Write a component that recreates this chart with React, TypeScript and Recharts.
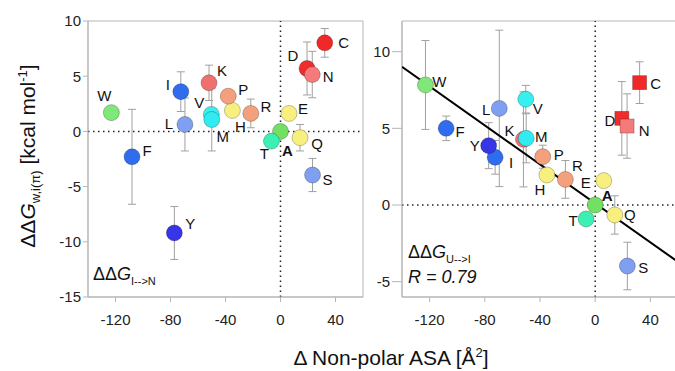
import React from 'react';
import {
  ScatterChart,
  Scatter,
  XAxis,
  YAxis,
  ErrorBar,
  ReferenceLine,
  ReferenceArea,
} from 'recharts';

// ---------------- data ----------------
const residues = ['W', 'F', 'I', 'Y', 'L', 'K', 'V', 'M', 'H', 'P', 'R', 'E', 'A', 'T', 'Q', 'S', 'D', 'N', 'C'];
const deltaNonPolarASA = [-123, -108, -72.5, -77.2, -69.5, -52, -50.3, -50, -35, -38, -21.6, 6.2, 0, -6.6, 14.2, 23.3, 19.3, 23.1, 32.2];
// ΔΔG I-->N (left panel)
const ddgIN = [1.7, -2.3, 3.6, -9.2, 0.63, 4.4, 1.54, 1.08, 1.9, 3.19, 1.63, 1.63, 0, -0.88, -0.57, -3.95, 5.7, 5.15, 8.02];
const errIN = [0, 4.3, 1.8, 2.4, 2.4, 1.6, 0.5, 2.85, 0.4, 0.5, 1.3, 0.3, 0, 0.3, 1.2, 1.5, 2.4, 2.1, 1.3];
// ΔΔG U-->I (right panel)
const ddgUI = [7.83, 5.0, 3.11, 3.87, 6.3, 4.28, 6.9, 4.35, 1.96, 3.15, 1.67, 1.59, 0, -0.91, -0.65, -3.98, 5.65, 5.15, 7.98];
const errUI = [2.9, 0.8, 1.1, 1.5, 5.1, 3.1, 0.9, 1.6, 0.4, 0.75, 1.23, 0.3, 0, 0.3, 1.25, 1.55, 2.4, 2.1, 1.36];
// regression line (right panel)
const fitX = [-140, 60];
const fitY = [9.01, -3.71];

const xTicks = [-120, -80, -40, 0, 40];
const yTicksLeft = [-15, -10, -5, 0, 5, 10];
const yTicksRight = [-5, 0, 5, 10];
const squareResidues = ['D', 'N', 'C'];

// ---------------- styles ----------------
const residueColors: Record<string, string> = {
  W: '#7fe879',
  F: '#2f6cf0',
  I: '#2f6cee',
  Y: '#3636e6',
  L: '#7f9ff0',
  K: '#f07070',
  V: '#36f0f0',
  M: '#30ecf0',
  H: '#f8f07e',
  P: '#f5a07c',
  R: '#f5a07c',
  E: '#f8f07e',
  A: '#72e062',
  T: '#3cf0b4',
  Q: '#f8f07e',
  S: '#7f9ff0',
  D: '#f02c2c',
  N: '#f57a7a',
  C: '#f02828',
};

const labelOffsetsLeft: Record<string, [number, number]> = {
  W: [-7, -17], F: [15, -6], I: [-13, -7], Y: [16, -9], L: [-16, -1], K: [13, -12],
  V: [-12, -12], M: [11, 17], H: [8, 16], P: [15, -7], R: [15, -7], E: [14, -5],
  A: [7, 19], T: [-7, 12], Q: [17, 6], S: [15, 4], D: [-14, -13], N: [16, 2], C: [19, 0],
};
const labelOffsetsRight: Record<string, [number, number]> = {
  W: [14, -3], F: [14, 3], I: [16, 5], Y: [-14, 0], L: [-13, 1], K: [-14, -9],
  V: [12, 9], M: [15, -2], H: [-7, 15], P: [16, -2], R: [12, -14], E: [-18, 2],
  A: [12, -10], T: [-13, 2], Q: [15, 0], S: [16, 1], D: [-12, 2], N: [17, 4], C: [16, 1],
};

const FONT = '"Liberation Sans", Arial, Helvetica, sans-serif';
const FRAME = '#b5b5b5';
const ERR = '#a0a0a0';

const leftData = residues.map((name, i) => ({ name, x: deltaNonPolarASA[i], y: ddgIN[i], err: errIN[i] }));
const rightData = residues.map((name, i) => ({ name, x: deltaNonPolarASA[i], y: ddgUI[i], err: errUI[i] }));
const fitData = fitX.map((x, i) => ({ x, y: fitY[i] }));

const makeMarker = (squares: string[]) => (props: any) => {
  const { cx, cy, payload } = props;
  if (cx == null || cy == null) return <g />;
  const c = residueColors[payload.name];
  if (squares.includes(payload.name)) {
    return <rect x={cx - 7} y={cy - 7} width={14} height={14} fill={c} stroke="rgba(0,0,0,0.3)" strokeWidth={0.8} />;
  }
  return <circle cx={cx} cy={cy} r={8} fill={c} stroke="rgba(0,0,0,0.3)" strokeWidth={0.8} />;
};

const makeLabel = (offsets: Record<string, [number, number]>) => (props: any) => {
  const { cx, cy, payload } = props;
  if (cx == null || cy == null) return <g />;
  const [dx, dy] = offsets[payload.name] || [12, 0];
  return (
    <text
      x={cx + dx}
      y={cy + dy}
      textAnchor="middle"
      dominantBaseline="central"
      fontSize={15}
      fontFamily={FONT}
      fontWeight={payload.name === 'A' ? 'bold' : 'normal'}
      fill="#111"
    >
      {payload.name}
    </text>
  );
};

const tickStyle = { fill: '#222', fontSize: 15, fontFamily: FONT };

const Panel = ({
  data,
  yDomain,
  yTicks,
  yAxisWidth,
  yTickSize,
  width,
  rightMargin,
  squares,
  offsets,
  fit,
}: any) => (
  <ScatterChart
    width={width}
    height={340}
    margin={{ top: 21, right: rightMargin, bottom: 13, left: 0 }}
  >
    <XAxis
      type="number"
      dataKey="x"
      domain={[-140, 60]}
      ticks={xTicks}
      allowDataOverflow
      tick={tickStyle}
      tickSize={5}
      tickMargin={12}
      stroke={FRAME}
      axisLine={{ stroke: FRAME }}
      tickLine={{ stroke: FRAME }}
      height={30}
    />
    <YAxis
      type="number"
      dataKey="y"
      domain={yDomain}
      ticks={yTicks}
      allowDataOverflow
      tick={tickStyle}
      tickSize={yTickSize}
      tickMargin={2}
      width={yAxisWidth}
      axisLine={{ stroke: FRAME }}
      tickLine={{ stroke: FRAME }}
    />
    <ReferenceArea
      x1={-140}
      x2={60}
      y1={yDomain[0]}
      y2={yDomain[1]}
      fill="none"
      fillOpacity={0}
      stroke={FRAME}
      strokeWidth={1}
      ifOverflow="extendDomain"
    />
    {fit && (
      <Scatter
        data={fit}
        line={{ stroke: '#000', strokeWidth: 2 }}
        shape={() => <g />}
        isAnimationActive={false}
      />
    )}
    <Scatter data={data} shape={makeMarker(squares)} isAnimationActive={false}>
      <ErrorBar dataKey="err" direction="y" width={4} stroke={ERR} strokeWidth={1} />
    </Scatter>
    <ReferenceLine x={0} stroke="#222" strokeWidth={1.5} strokeDasharray="1.5 3.5" />
    <ReferenceLine y={0} stroke="#222" strokeWidth={1.5} strokeDasharray="1.5 3.5" />
    <Scatter data={data} shape={makeLabel(offsets)} isAnimationActive={false} />
  </ScatterChart>
);

export default function App() {
  return (
    <div
      style={{
        position: 'absolute',
        left: 0,
        top: 0,
        width: 675,
        height: 371,
        overflow: 'hidden',
        background: '#fff',
        fontFamily: FONT,
      }}
    >
      <div style={{ position: 'absolute', left: 0, top: 0 }}>
        <Panel
          data={leftData}
          yDomain={[-15, 10]}
          yTicks={yTicksLeft}
          yAxisWidth={88}
          yTickSize={5}
          width={375}
          rightMargin={12}
          squares={[]}
          offsets={labelOffsetsLeft}
        />
      </div>
      <div style={{ position: 'absolute', left: 340, top: 0 }}>
        <Panel
          data={rightData}
          yDomain={[-6, 12]}
          yTicks={yTicksRight}
          yAxisWidth={62}
          yTickSize={10}
          width={346}
          rightMargin={8}
          squares={squareResidues}
          offsets={labelOffsetsRight}
          fit={fitData}
        />
      </div>
      <svg
        width={675}
        height={371}
        style={{ position: 'absolute', left: 0, top: 0, pointerEvents: 'none' }}
        fontFamily={FONT}
      >
        {/* y-axis label */}
        <text transform="rotate(-90)" x={-156} y={35} textAnchor="middle" fontSize={21} fill="#111">
          ΔΔ<tspan fontStyle="italic">G</tspan>
          <tspan fontSize={13} dy={5}>w,i(π)</tspan>
          <tspan dy={-5}> [kcal mol</tspan>
          <tspan fontSize={13} dy={-8}>-1</tspan>
          <tspan dy={8}>]</tspan>
        </text>
        {/* x-axis label */}
        <text x={391} y={365} textAnchor="middle" fontSize={21} fill="#111">
          Δ Non-polar ASA [Å<tspan fontSize={13} dy={-8}>2</tspan>
          <tspan dy={8}>]</tspan>
        </text>
        {/* left annotation */}
        <text x={93} y={280} fontSize={18} fill="#111">
          ΔΔ<tspan fontStyle="italic">G</tspan>
          <tspan fontSize={11} dy={5}>I--&gt;N</tspan>
        </text>
        {/* right annotation */}
        <text x={408} y={258} fontSize={18} fill="#111">
          ΔΔ<tspan fontStyle="italic">G</tspan>
          <tspan fontSize={11} dy={5}>U--&gt;I</tspan>
        </text>
        <text x={408} y={283} fontSize={18} fill="#111" fontStyle="italic">
          R = 0.79
        </text>
      </svg>
    </div>
  );
}
